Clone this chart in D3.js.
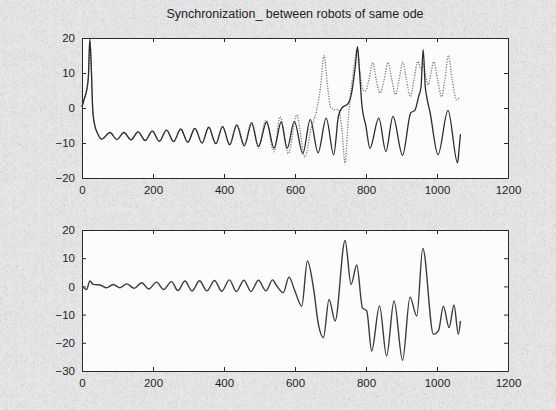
<!DOCTYPE html>
<html lang="en">
<head>
    <meta charset="UTF-8">
    <title>Synchronization</title>
    <script src="https://cdn.jsdelivr.net/npm/d3@7"></script>
    <style>
        body { margin: 0; background: #d8d8d8; }
        svg { display: block; }
        text { font-family: "Liberation Sans", Arial, sans-serif; fill: #1e1e1e; }
    </style>
</head>
<body>
    <svg id="mainsvg" width="556" height="410"></svg>
    <script>
        // x ticks shared by both panels
        const xTicks = [0, 200, 400, 600, 800, 1000, 1200];
        const topYTicks = [-20, -10, 0, 10, 20];
        const bottomYTicks = [-30, -20, -10, 0, 10, 20];
        const titleText = "Synchronization_ between robots of same ode";

        // both robots follow the same path at the start
        const earlyX = [0, 6, 13, 18, 22, 26, 30, 34, 46, 55, 79, 98, 118, 138, 158, 178, 198, 218, 238, 258, 278, 298, 318, 338, 357, 377, 396, 416];
        const earlyY = [0.3, 2.5, 5, 9, 19.5, 12, 0, -4, -7.7, -8.9, -7.0, -9.0, -7.0, -9.1, -6.8, -9.3, -6.6, -9.5, -6.3, -9.6, -6.0, -9.8, -5.8, -10.0, -5.5, -10.2, -5.3, -10.5];

        // robot 1 (solid)
        const solidX = [436, 457, 478, 497, 520, 541, 561, 578, 598, 622, 643, 665, 688, 709, 722, 731, 750, 760, 770, 776, 782, 788, 800, 811, 836, 856, 876, 903, 926, 938, 948, 955, 961, 967, 971, 980, 1003, 1031, 1058, 1062, 1066];
        const solidY = [-4.9, -10.8, -4.4, -11.0, -4.0, -11.5, -4.0, -11.5, -3.8, -13, -3.3, -12.8, -2.9, -13.4, -2.5, -0.1, 1.3, 4.6, 12, 17.5, 10, 1.3, -5.3, -11.5, -2.9, -12.4, -2.4, -13.5, -1.4, -0.6, 3.2, 6, 16.7, 6, 3.2, -1, -13.3, -0.7, -15.7, -12, -7.5];

        // robot 2 (dotted)
        const dottedX = [436, 457, 478, 497, 518, 541, 558, 581, 605, 628, 645, 660, 672, 682, 692, 700, 712, 722, 732, 741, 750, 760, 768, 775, 782, 790, 798, 808, 819, 829, 840, 851, 862, 873, 883, 893, 904, 914, 925, 935, 946, 955, 962, 968, 975, 983, 991, 1002, 1013, 1022, 1032, 1043, 1055, 1064];
        const dottedY = [-4.6, -10.4, -4.0, -11.5, -3.5, -12.5, -2.5, -13, -2, -14, -6, -1, 6, 15, 6, 0.4, -0.5, -0.4, -6, -15.7, -3.4, 7, 13, 17, 11, 5.5, 4.8, 8, 13, 8, 4.3, 8, 13, 8, 3.8, 8, 13, 8, 3.3, 8, 13.3, 11, 12.5, 9, 6.6, 10, 13.2, 8, 3.2, 8, 15, 8, 2.3, 3.2];

        // difference between the two robots
        const bottomX = [0, 13, 22, 32, 51, 69, 88, 107, 126, 147, 168, 188, 210, 230, 252, 270, 290, 310, 331, 352, 373, 394, 415, 435, 456, 476, 497, 518, 537, 547, 567, 583, 600, 619, 635, 652, 666, 680, 696, 713, 741, 758, 774, 790, 802, 816, 838, 858, 879, 903, 924, 943, 960, 990, 1004, 1018, 1034, 1048, 1060, 1066];
        const bottomY = [0.1, -1.1, 1.9, 0.7, 0.5, -0.5, 0.7, -0.5, 0.9, -0.7, 1.3, -0.9, 1.5, -1.1, 1.7, -1.5, 1.9, -1.6, 2.0, -1.6, 2.1, -1.7, 2.3, -1.8, 2.2, -1.8, 2.2, -1.6, 2.3, 0.5, -2.2, 3.3, -1.7, -7.0, 9.0, -0.5, -13.5, -18.2, -4.6, -12.3, 16.3, 0.7, 7.6, -7.6, -8.7, -22.9, -6.9, -24.7, -5.2, -26.2, -3.8, -10.5, 13.5, -17.0, -15.8, -7.0, -14.6, -6.6, -17, -12.2];

        const svg = d3.select("svg");
        const width = +svg.attr("width");
        const height = +svg.attr("height");

        // scanned paper look
        const defs = svg.append("defs");
        const noise = defs.append("filter").attr("id", "noise")
            .attr("x", 0).attr("y", 0).attr("width", "100%").attr("height", "100%");
        noise.append("feTurbulence").attr("type", "turbulence")
            .attr("baseFrequency", 0.45).attr("numOctaves", 2).attr("seed", 4);
        noise.append("feColorMatrix").attr("type", "matrix")
            .attr("values", "-1 0 0 0 1  -1 0 0 0 1  -1 0 0 0 1  0 0 0 0 1");
        svg.append("rect").attr("width", width).attr("height", height).attr("fill", "#e4e4e4");
        svg.append("rect").attr("width", width).attr("height", height)
            .attr("filter", "url(#noise)").attr("opacity", 0.22);

        const x = d3.scaleLinear().domain([0, 1200]).range([82, 508]);
        const line = (xs, ys, yScale) => d3.line()
            .x(i => x(xs[i]))
            .y(i => yScale(ys[i]))
            .curve(d3.curveMonotoneX)(d3.range(xs.length));

        function panel(top, bottom, yDomain, yTicks) {
            const y = d3.scaleLinear().domain(yDomain).range([bottom, top]);
            const g = svg.append("g");
            g.append("rect")
                .attr("x", x(0)).attr("y", top)
                .attr("width", x(1200) - x(0)).attr("height", bottom - top)
                .attr("fill", "#fcfcfc");

            const axB = d3.axisBottom(x).tickValues(xTicks).tickFormat(d3.format("d"))
                .tickSizeInner(-4).tickSizeOuter(0).tickPadding(8);
            const axT = d3.axisTop(x).tickValues(xTicks).tickSizeInner(-4).tickSizeOuter(0).tickFormat("");
            const axL = d3.axisLeft(y).tickValues(yTicks).tickSizeInner(-4).tickSizeOuter(0).tickPadding(7);
            const axR = d3.axisRight(y).tickValues(yTicks).tickSizeInner(-4).tickSizeOuter(0).tickFormat("");

            g.append("g").attr("transform", `translate(0,${bottom})`).call(axB);
            g.append("g").attr("transform", `translate(0,${top})`).call(axT);
            g.append("g").attr("transform", `translate(${x(0)},0)`).call(axL);
            g.append("g").attr("transform", `translate(${x(1200)},0)`).call(axR);
            g.selectAll(".domain, .tick line").attr("stroke", "#2a2a2a").attr("stroke-width", 1);
            g.selectAll(".tick text").attr("font-size", 11.5).attr("fill", "#1e1e1e");
            return {g, y};
        }

        // upper panel
        const p1 = panel(38, 178, [-20, 20], topYTicks);
        const dottedAll = {x: earlyX.concat(dottedX), y: earlyY.concat(dottedY)};
        const solidAll = {x: earlyX.concat(solidX), y: earlyY.concat(solidY)};
        p1.g.append("path")
            .attr("d", line(dottedAll.x, dottedAll.y, p1.y))
            .attr("fill", "none")
            .attr("stroke", "#7a7a7a")
            .attr("stroke-width", 1.3)
            .attr("stroke-dasharray", "1.2,1.4");
        p1.g.append("path")
            .attr("d", line(solidAll.x, solidAll.y, p1.y))
            .attr("fill", "none")
            .attr("stroke", "#2b2b2b")
            .attr("stroke-width", 1.3);

        svg.append("text")
            .attr("x", (x(0) + x(1200)) / 2)
            .attr("y", 18)
            .attr("text-anchor", "middle")
            .attr("font-size", 12.5)
            .text(titleText);

        // lower panel
        const p2 = panel(230, 371, [-30, 20], bottomYTicks);
        p2.g.append("path")
            .attr("d", line(bottomX, bottomY, p2.y))
            .attr("fill", "none")
            .attr("stroke", "#3c3c3c")
            .attr("stroke-width", 1.4);
    </script>
</body>
</html>
